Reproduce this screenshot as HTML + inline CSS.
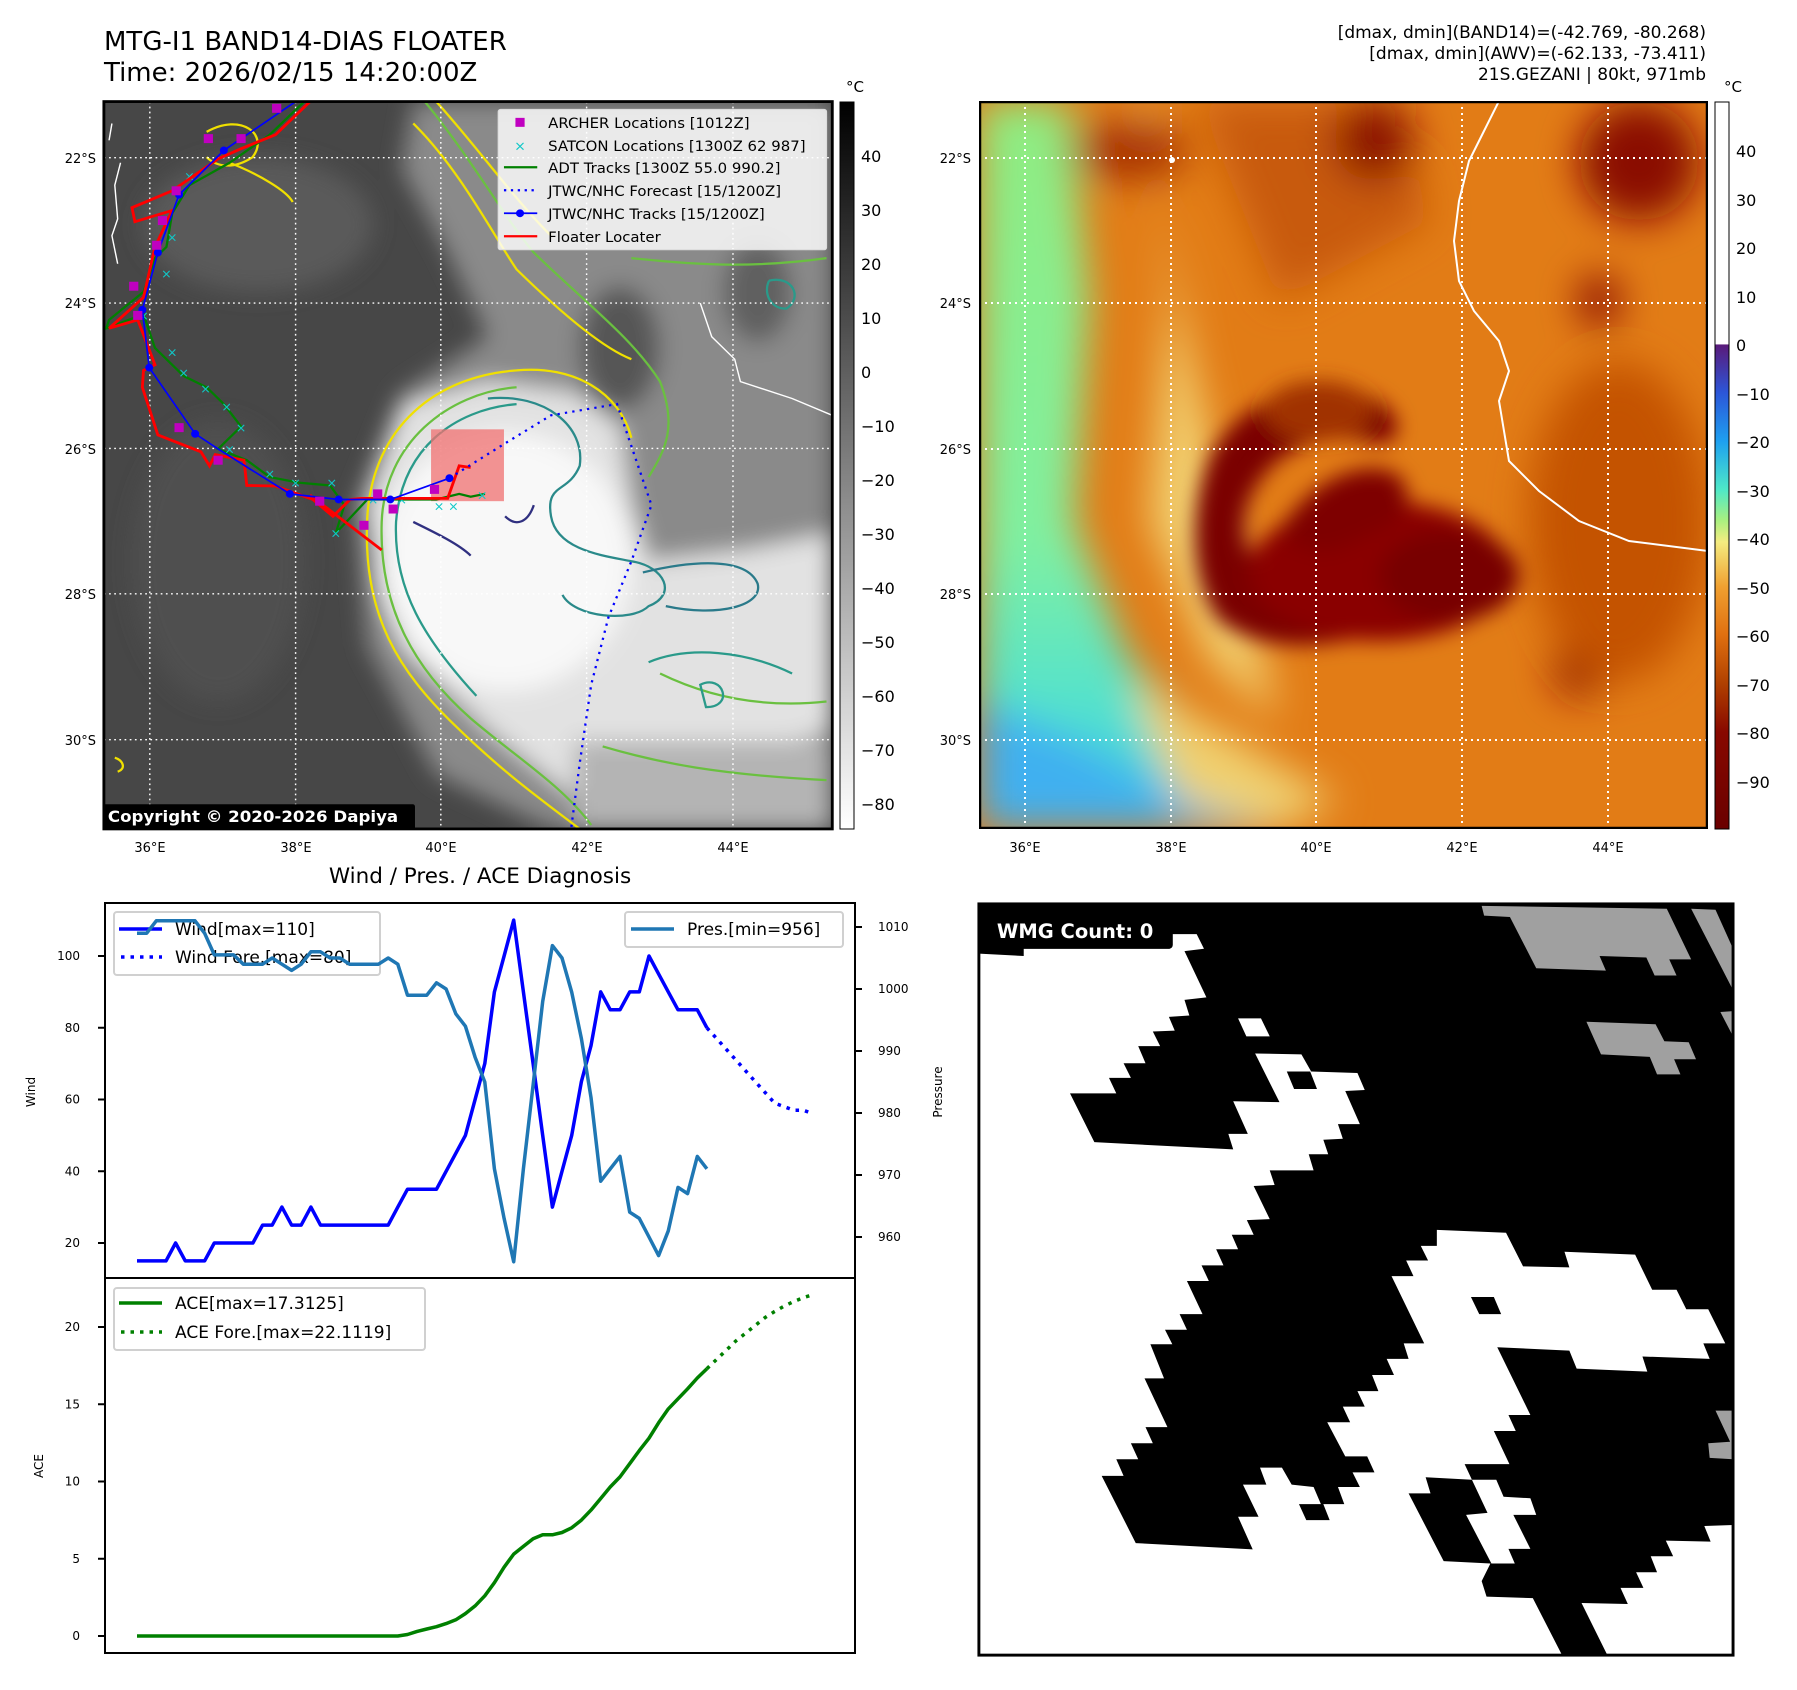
<!DOCTYPE html>
<html><head><meta charset="utf-8">
<style>
html,body{margin:0;padding:0;background:#fff;}
body{width:1797px;height:1690px;position:relative;overflow:hidden;font-family:"DejaVu Sans","Liberation Sans",sans-serif;}
svg text{font-family:"DejaVu Sans","Liberation Sans",sans-serif;}
</style></head>
<body>
<svg id="main" width="1797" height="1690" viewBox="0 0 1797 1690" xmlns="http://www.w3.org/2000/svg" style="position:absolute;left:0;top:0">
<defs>
  <filter id="b20" x="-20%" y="-20%" width="140%" height="140%"><feGaussianBlur stdDeviation="20"/></filter>
  <filter id="b10" x="-20%" y="-20%" width="140%" height="140%"><feGaussianBlur stdDeviation="10"/></filter>
  <filter id="b6" x="-20%" y="-20%" width="140%" height="140%"><feGaussianBlur stdDeviation="6"/></filter>
  <linearGradient id="grayBar" x1="0" y1="0" x2="0" y2="1">
    <stop offset="0" stop-color="#000"/><stop offset="1" stop-color="#fff"/>
  </linearGradient>
  <linearGradient id="colBar" x1="0" y1="0" x2="0" y2="1">
    <stop offset="0" stop-color="#fff"/><stop offset="0.333" stop-color="#fff"/>
    <stop offset="0.334" stop-color="#5a1a7a"/>
    <stop offset="0.40" stop-color="#2c56d8"/>
    <stop offset="0.467" stop-color="#1ea0f0"/>
    <stop offset="0.533" stop-color="#4ee8c8"/>
    <stop offset="0.575" stop-color="#a8f080"/>
    <stop offset="0.605" stop-color="#f4ec80"/>
    <stop offset="0.667" stop-color="#f0a030"/>
    <stop offset="0.733" stop-color="#e07010"/>
    <stop offset="0.80" stop-color="#b04000"/>
    <stop offset="0.867" stop-color="#880800"/>
    <stop offset="1" stop-color="#6a0000"/>
  </linearGradient>
  <linearGradient id="rmLeft" x1="0" y1="0" x2="0" y2="1">
    <stop offset="0" stop-color="#90ec80"/><stop offset="0.6" stop-color="#80f0a0"/><stop offset="0.85" stop-color="#50e0d0"/><stop offset="1" stop-color="#40c8e8"/>
  </linearGradient>
  <clipPath id="lmClip"><rect x="181" y="181" width="1269" height="1296"/></clipPath>
  <clipPath id="rmClip"><rect x="0" y="0" width="729" height="728"/></clipPath>
</defs>

<!-- Titles -->
<text x="104" y="50" font-size="26" fill="#000">MTG-I1 BAND14-DIAS FLOATER</text>
<text x="104" y="81" font-size="26" fill="#000">Time: 2026/02/15 14:20:00Z</text>
<g font-size="17" text-anchor="end" fill="#000">
  <text x="1706" y="38">[dmax, dmin](BAND14)=(-42.769, -80.268)</text>
  <text x="1706" y="59">[dmax, dmin](AWV)=(-62.133, -73.411)</text>
  <text x="1706" y="80">21S.GEZANI | 80kt, 971mb</text>
</g>

<!-- LEFT MAP -->
<svg x="0" y="0" width="900" height="880" viewBox="0 0 1568 1568" preserveAspectRatio="none">
 <g clip-path="url(#lmClip)">
  <rect x="181" y="181" width="1269" height="1296" fill="#474747"/>
  <g filter="url(#b20)">
    <ellipse cx="450" cy="400" rx="200" ry="120" fill="#5a5a5a"/>
    <ellipse cx="380" cy="1000" rx="150" ry="250" fill="#505050"/>
    <path d="M720,181 L1450,181 L1450,1477 L960,1477 L760,1380 L640,1150 L620,900 L700,700 L850,600 L780,450 L700,300 Z" fill="#8a8a8a"/>
    <ellipse cx="1080" cy="620" rx="70" ry="110" fill="#565656"/>
    <ellipse cx="1320" cy="520" rx="60" ry="90" fill="#606060"/>
    <path d="M640,900 L700,720 L850,680 L1000,700 L1080,760 L1100,900 L1130,1000 L1300,980 L1450,950 L1450,1300 L1200,1380 L1000,1420 L850,1300 L700,1150 Z" fill="#e2e2e2"/>
    <ellipse cx="880" cy="1000" rx="220" ry="230" fill="#f8f8f8"/>
    <rect x="1000" y="1320" width="450" height="160" fill="#b4b4b4"/>
  </g>
  <g fill="none" stroke-width="4">
    <path d="M900,660 C760,670 650,760 640,920 C630,1100 700,1200 790,1290 C880,1380 950,1430 1010,1477 M900,660 C1000,650 1080,700 1100,780" stroke="#f0e000"/>
    <path d="M900,690 C780,700 670,790 665,930 C660,1080 720,1190 820,1280 C900,1350 980,1400 1030,1470" stroke="#6ac040"/>
    <path d="M900,720 C790,730 700,800 690,930 C685,1050 740,1140 830,1240" stroke="#2a9a8a"/>
    <path d="M850,710 C950,700 1020,760 1010,830 C990,880 950,860 960,920 C970,980 1050,990 1100,1000 C1160,1010 1180,1060 1130,1080 C1100,1110 1000,1100 980,1060" stroke="#2a8a8a"/>
    <path d="M1120,1020 C1200,1000 1300,990 1320,1040 C1330,1080 1250,1100 1160,1080" stroke="#2a7a8a"/>
    <path d="M720,930 C760,950 800,970 820,990 M880,920 C900,940 920,930 930,900" stroke="#303080"/>
    <path d="M720,220 C800,300 860,420 900,480 C980,560 1050,620 1100,640 M760,181 C830,260 900,360 960,420" stroke="#f0e000"/>
    <path d="M740,181 C820,280 880,390 930,450 C1020,540 1100,600 1150,680 C1180,760 1160,800 1130,850" stroke="#6ac040"/>
    <path d="M1100,460 C1200,470 1300,480 1440,460 M1150,1200 C1250,1250 1350,1260 1440,1250 M1050,1330 C1150,1360 1250,1380 1440,1390" stroke="#6ac040"/>
    <path d="M1130,1180 C1200,1150 1300,1160 1380,1200 M1220,1220 C1260,1200 1280,1260 1230,1260 Z" stroke="#2a9a8a"/>
    <path d="M1340,500 C1380,490 1400,530 1370,550 C1340,550 1330,520 1340,500" stroke="#2a9a8a"/>
    <path d="M360,235 C420,200 470,240 440,280 C410,300 380,300 360,280 M400,290 C450,310 500,340 510,360" stroke="#f0e000"/>
    <path d="M200,1350 C215,1355 220,1370 205,1375" stroke="#f0e000"/>
  </g>
  <path d="M195,220 L190,250 M210,290 L200,330 L205,390 L195,420 L205,470 M1220,540 L1240,600 L1280,640 L1290,680 L1380,710 L1450,740" stroke="#fff" stroke-width="2.5" fill="none"/>
  <g stroke="#fff" stroke-width="2.5" stroke-dasharray="3,6">
    <line x1="261" y1="181" x2="261" y2="1477"/><line x1="515" y1="181" x2="515" y2="1477"/><line x1="768" y1="181" x2="768" y2="1477"/><line x1="1022" y1="181" x2="1022" y2="1477"/><line x1="1277" y1="181" x2="1277" y2="1477"/>
    <line x1="181" y1="281" x2="1450" y2="281"/><line x1="181" y1="540" x2="1450" y2="540"/><line x1="181" y1="799" x2="1450" y2="799"/><line x1="181" y1="1058" x2="1450" y2="1058"/><line x1="181" y1="1318" x2="1450" y2="1318"/>
  </g>
  <rect x="751" y="765" width="127" height="128" fill="#f07070" fill-opacity="0.75"/>
  <polyline points="530,181 470,240 400,290 330,330 300,380 290,440 270,460 250,520 190,570 185,585 250,560 270,620 300,650 320,670 360,690 390,720 420,760 380,800 430,820 470,850 520,860 575,865 600,900 585,950 640,890 760,890 800,880 820,885 845,880" fill="none" stroke="#008000" stroke-width="4"/>
  <g fill="#10c8c8" font-size="22" text-anchor="middle">
    <text x="330" y="322">×</text><text x="300" y="430">×</text><text x="290" y="495">×</text><text x="250" y="570">×</text><text x="300" y="635">×</text><text x="320" y="672">×</text><text x="358" y="700">×</text><text x="395" y="732">×</text><text x="420" y="770">×</text><text x="400" y="808">×</text><text x="470" y="852">×</text><text x="515" y="868">×</text><text x="578" y="868">×</text><text x="585" y="958">×</text><text x="650" y="898">×</text><text x="700" y="898">×</text><text x="765" y="910">×</text><text x="790" y="910">×</text><text x="840" y="890">×</text>
  </g>
  <polyline points="540,181 480,240 420,265 380,283 300,340 230,370 235,395 300,375 270,440 250,530 190,585 240,570 270,650 250,660 248,690 275,775 350,805 365,830 375,810 425,820 430,865 480,866 545,890 580,920 610,890 630,888 780,888 800,830 820,833" fill="none" stroke="#ff0000" stroke-width="5"/>
  <line x1="540" y1="882" x2="665" y2="980" stroke="#ff0000" stroke-width="5"/>
  <polyline points="515,181 390,268 312,347 275,450 248,552 260,655 340,773 380,800 505,880 590,890 680,890 783,852" fill="none" stroke="#0000ff" stroke-width="3"/>
  <g fill="#0000ff"><circle cx="390" cy="268" r="7"/><circle cx="312" cy="347" r="7"/><circle cx="275" cy="450" r="7"/><circle cx="248" cy="552" r="7"/><circle cx="260" cy="655" r="7"/><circle cx="340" cy="773" r="7"/><circle cx="505" cy="880" r="7"/><circle cx="590" cy="890" r="7"/><circle cx="680" cy="890" r="7"/><circle cx="783" cy="852" r="7"/></g>
  <polyline points="783,852 880,790 960,740 1075,720 1135,900 1100,1000 1060,1100 1030,1220 1010,1360 995,1477" fill="none" stroke="#0000ff" stroke-width="4" stroke-dasharray="4,9"/>
  <g fill="#c000c0">
    <rect x="355" y="239" width="16" height="16"/><rect x="412" y="239" width="16" height="16"/><rect x="474" y="185" width="16" height="16"/><rect x="299" y="332" width="16" height="16"/><rect x="275" y="385" width="16" height="16"/><rect x="265" y="429" width="16" height="16"/><rect x="225" y="502" width="16" height="16"/><rect x="232" y="554" width="16" height="16"/><rect x="304" y="754" width="16" height="16"/><rect x="372" y="812" width="16" height="16"/><rect x="549" y="885" width="16" height="16"/><rect x="626" y="928" width="16" height="16"/><rect x="650" y="872" width="16" height="16"/><rect x="677" y="899" width="16" height="16"/><rect x="749" y="864" width="16" height="16"/>
  </g>
  <g>
    <rect x="868" y="195" width="572" height="250" fill="#fff" fill-opacity="0.82" stroke="#ddd" stroke-width="2" rx="4"/>
    <rect x="898" y="210" width="16" height="16" fill="#c000c0"/>
    <text x="906" y="268" font-size="24" fill="#10c8c8" text-anchor="middle">×</text>
    <line x1="878" y1="298" x2="936" y2="298" stroke="#008000" stroke-width="4"/>
    <line x1="878" y1="339" x2="936" y2="339" stroke="#0000ff" stroke-width="4" stroke-dasharray="4,8"/>
    <line x1="878" y1="380" x2="936" y2="380" stroke="#0000ff" stroke-width="3"/><circle cx="906" cy="380" r="7" fill="#0000ff"/>
    <line x1="878" y1="421" x2="936" y2="421" stroke="#ff0000" stroke-width="4"/>
    <g font-size="26" fill="#000">
      <text x="955" y="228">ARCHER Locations [1012Z]</text>
      <text x="955" y="269">SATCON Locations [1300Z 62 987]</text>
      <text x="955" y="308">ADT Tracks [1300Z 55.0 990.2]</text>
      <text x="955" y="349">JTWC/NHC Forecast [15/1200Z]</text>
      <text x="955" y="390">JTWC/NHC Tracks [15/1200Z]</text>
      <text x="955" y="431">Floater Locater</text>
    </g>
  </g>
  <rect x="178" y="1433" width="545" height="46" fill="#000" rx="4"/>
  <text x="188" y="1465" font-size="29" font-weight="bold" fill="#fff">Copyright © 2020-2026 Dapiya</text>
 </g>
 <rect x="181" y="181" width="1269" height="1296" fill="none" stroke="#000" stroke-width="5"/>
</svg>

<g font-size="13" fill="#000">
  <g text-anchor="end"><text x="96" y="163">22°S</text><text x="96" y="308">24°S</text><text x="96" y="454">26°S</text><text x="96" y="599">28°S</text><text x="96" y="745">30°S</text></g>
  <g text-anchor="middle"><text x="150" y="852">36°E</text><text x="296" y="852">38°E</text><text x="441" y="852">40°E</text><text x="587" y="852">42°E</text><text x="733" y="852">44°E</text></g>
</g>
<rect x="840" y="102" width="14" height="727" fill="url(#grayBar)" stroke="#000" stroke-width="1"/>
<text x="855" y="92" font-size="15" text-anchor="middle">°C</text>
<g font-size="16" fill="#000">
  <text x="861" y="162">40</text><text x="861" y="216">30</text><text x="861" y="270">20</text><text x="861" y="324">10</text><text x="861" y="378">0</text><text x="861" y="432">−10</text><text x="861" y="486">−20</text><text x="861" y="540">−30</text><text x="861" y="594">−40</text><text x="861" y="648">−50</text><text x="861" y="702">−60</text><text x="861" y="756">−70</text><text x="861" y="810">−80</text>
</g>

<!-- RIGHT MAP -->
<svg x="979" y="101" width="729" height="728" viewBox="0 0 729 728">
 <g clip-path="url(#rmClip)">
  <rect width="729" height="728" fill="#e27c16"/>
  <g filter="url(#b20)">
    <path d="M0,0 L90,0 L110,200 L95,420 L150,560 L260,660 L300,728 L0,728 Z" fill="url(#rmLeft)"/>
    <path d="M0,600 L100,640 L200,700 L240,728 L0,728 Z" fill="#40b0f0"/>
    <path d="M90,0 L170,0 L190,200 L170,420 L230,560 L300,620 L260,460 L210,250 L160,0 Z" fill="#f2d070"/>
    <path d="M150,580 L260,640 L360,700 L300,728 L200,700 Z" fill="#f0d070"/>
    <path d="M220,0 L420,0 L450,120 L300,200 Z" fill="#c85a10"/>
    <ellipse cx="150" cy="50" rx="60" ry="30" fill="#a83000"/>
    <ellipse cx="395" cy="40" rx="40" ry="40" fill="#8a1000"/>
    <ellipse cx="660" cy="60" rx="60" ry="60" fill="#8a0800"/>
    <ellipse cx="620" cy="200" rx="20" ry="25" fill="#800000"/>
    <ellipse cx="600" cy="570" rx="25" ry="25" fill="#900800"/>
    <ellipse cx="640" cy="420" rx="90" ry="160" fill="#c45200"/>
  </g>
  <g filter="url(#b10)">
    <path d="M230,360 C260,290 350,270 400,300 C430,320 420,350 390,340 C340,330 290,350 270,400 C250,460 300,500 370,470 C420,450 460,440 490,470 C520,500 480,520 420,530 C360,540 300,560 240,520 C210,480 210,410 230,360 Z" fill="#7a0000"/>
    <ellipse cx="400" cy="470" rx="130" ry="70" fill="#8a0400"/>
    <ellipse cx="470" cy="475" rx="70" ry="45" fill="#780000"/>
    <path d="M300,430 C330,380 380,360 410,370 C440,380 430,420 400,430 C370,440 340,470 300,430 Z" fill="#7e0000"/>
    <ellipse cx="340" cy="310" rx="55" ry="30" fill="#a03000"/>
  </g>
  <path d="M520,0 L505,30 L490,60 L480,100 L475,140 L480,180 L495,210 L520,240 L530,270 L520,300 L530,360 L560,390 L600,420 L650,440 L729,450" fill="none" stroke="#fff" stroke-width="2"/>
  <circle cx="193" cy="59" r="3" fill="#fff"/>
  <g stroke="#fff" stroke-width="2" stroke-dasharray="2,4">
    <line x1="46" y1="0" x2="46" y2="728"/><line x1="192" y1="0" x2="192" y2="728"/><line x1="337" y1="0" x2="337" y2="728"/><line x1="483" y1="0" x2="483" y2="728"/><line x1="629" y1="0" x2="629" y2="728"/>
    <line x1="0" y1="57" x2="729" y2="57"/><line x1="0" y1="202" x2="729" y2="202"/><line x1="0" y1="348" x2="729" y2="348"/><line x1="0" y1="493" x2="729" y2="493"/><line x1="0" y1="639" x2="729" y2="639"/>
  </g>
 </g>
 <rect x="1" y="1" width="727" height="726" fill="none" stroke="#000" stroke-width="2.5"/>
</svg>
<g font-size="13" fill="#000">
  <g text-anchor="end"><text x="971" y="163">22°S</text><text x="971" y="308">24°S</text><text x="971" y="454">26°S</text><text x="971" y="599">28°S</text><text x="971" y="745">30°S</text></g>
  <g text-anchor="middle"><text x="1025" y="852">36°E</text><text x="1171" y="852">38°E</text><text x="1316" y="852">40°E</text><text x="1462" y="852">42°E</text><text x="1608" y="852">44°E</text></g>
</g>
<rect x="1715" y="102" width="14" height="727" fill="url(#colBar)" stroke="#000" stroke-width="1"/>
<text x="1733" y="92" font-size="15" text-anchor="middle">°C</text>
<g font-size="16" fill="#000">
  <text x="1736" y="157">40</text><text x="1736" y="206">30</text><text x="1736" y="254">20</text><text x="1736" y="303">10</text><text x="1736" y="351">0</text><text x="1736" y="400">−10</text><text x="1736" y="448">−20</text><text x="1736" y="497">−30</text><text x="1736" y="545">−40</text><text x="1736" y="594">−50</text><text x="1736" y="642">−60</text><text x="1736" y="691">−70</text><text x="1736" y="739">−80</text><text x="1736" y="788">−90</text>
</g>

<!-- WMG panel -->
<svg x="975" y="900" width="760" height="760" viewBox="0 0 1560 1560">
  <rect x="8" y="8" width="1548" height="1542" fill="#fff"/>
  <path fill="#000" d="M8,8 L1556,8 L1556,1283 L1497,1285 L1510,1317 L1418,1315 L1433,1347 L1387,1347 L1400,1380 L1357,1380 L1372,1412 L1325,1412 L1340,1445 L1245,1443 L1298,1550 L1205,1550 L1145,1433 L1050,1430 L1040,1398 L1058,1362 L962,1357 L890,1218 L935,1218 L925,1185 L1020,1190 L1005,1158 L1097,1158 L1065,1090 L1110,1090 L1095,1057 L1140,1057 L1072,918 L1220,925 L1235,962 L1380,968 L1370,937 L1508,942 L1495,910 L1540,910 L1505,840 L1460,840 L1440,800 L1390,800 L1355,728 L1210,722 L1220,754 L1125,752 L1090,683 L948,677 L948,710 L915,710 L930,740 L885,740 L900,772 L855,772 L922,910 L880,910 L890,942 L845,942 L860,975 L815,975 L828,1008 L785,1008 L800,1040 L755,1040 L770,1072 L723,1072 L760,1142 L805,1142 L820,1175 L775,1175 L790,1205 L745,1205 L758,1240 L715,1240 L728,1273 L680,1273 L665,1240 L710,1240 L695,1205 L650,1200 L630,1165 L585,1165 L598,1200 L550,1200 L582,1266 L540,1266 L570,1333 L330,1320 L260,1182 L305,1182 L290,1148 L335,1148 L320,1115 L365,1115 L350,1082 L395,1082 L348,982 L388,982 L360,912 L405,912 L390,882 L435,882 L420,850 L467,850 L435,782 L480,782 L465,750 L510,750 L495,717 L540,717 L527,687 L572,687 L558,657 L605,655 L572,587 L615,585 L605,555 L695,555 L685,522 L725,522 L715,492 L755,490 L745,460 L790,460 L760,392 L800,390 L785,355 L690,352 L670,317 L575,315 L625,415 L530,413 L560,480 L520,480 L530,512 L245,497 L195,397 L290,397 L275,365 L320,365 L305,335 L350,335 L335,300 L380,300 L365,270 L410,268 L398,240 L440,237 L430,205 L475,200 L430,105 L470,100 L455,70 L400,70 L400,100 L100,100 L100,115 L8,110 Z"/>
  <path fill="#fff" d="M540,243 L587,243 L605,280 L557,280 Z"/>
  <path fill="#000" d="M640,352 L688,352 L702,388 L655,388 Z"/>
  <path fill="#000" d="M1018,815 L1065,815 L1080,850 L1035,850 Z"/>
  <path fill="#fff" d="M1020,1190 L1070,1190 L1085,1225 L1140,1228 L1152,1262 L1105,1262 L1140,1332 L1095,1332 L1108,1362 L1060,1362 L1008,1262 L1052,1258 Z"/>
  <g fill="#a0a0a0">
    <path d="M1040,12 L1420,18 L1470,122 L1425,122 L1440,155 L1395,155 L1378,118 L1282,115 L1295,145 L1152,140 L1098,35 L1045,32 Z"/>
    <path d="M1470,18 L1520,20 L1556,100 L1556,185 Z"/>
    <path d="M1255,250 L1397,255 L1415,290 L1465,292 L1480,327 L1435,327 L1448,358 L1400,358 L1385,322 L1285,317 Z"/>
    <path d="M1530,230 L1556,228 L1556,280 Z"/>
    <path d="M1520,1048 L1556,1048 L1556,1148 L1508,1145 L1505,1115 L1550,1112 Z"/>
  </g>
  <rect x="8" y="8" width="398" height="92" rx="8" fill="#000"/>
  <text x="45" y="78" font-size="40" font-weight="bold" fill="#fff">WMG Count: 0</text>
  <rect x="8" y="8" width="1548" height="1542" fill="none" stroke="#000" stroke-width="6"/>
</svg>

<text x="480" y="883" font-size="21.5" text-anchor="middle">Wind / Pres. / ACE Diagnosis</text>
<g id="chart"></g>
</svg>

<script>
const windVals = [15,15,15,15,20,15,15,15,20,20,20,20,20,25,25,30,25,25,30,25,25,25,25,25,25,25,25,30,35,35,35,35,40,45,50,60,70,90,100,110,90,70,50,30,40,50,65,75,90,85,85,90,90,100,95,90,85,85,85,80];
const windFore = [80,77,74,71,68,65,62,59,58,57,57,56];
const presVals = [1009,1009,1011,1011,1011,1011,1011,1009,1005.5,1005.5,1005.5,1004,1004,1004,1005,1004,1003,1004,1006,1006,1005,1005,1004,1004,1004,1004,1005,1004,999,999,999,1001,1000,996,994,989,985,971,963,956,971,984.5,998,1007,1005,999.5,992,982.5,969,971,973,964,963,960,957,961,968,967,973,971];
const aceVals = [0,0,0,0,0,0,0,0,0,0,0,0,0,0,0,0,0,0,0,0,0,0,0,0,0,0,0,0,0.1,0.3,0.45,0.6,0.8,1.05,1.45,1.95,2.6,3.45,4.45,5.3,5.8,6.3,6.55,6.55,6.7,7.0,7.5,8.15,8.9,9.65,10.3,11.15,12.0,12.8,13.8,14.7,15.35,16.0,16.7,17.3];
const aceFore = [17.3,17.9,18.5,19.1,19.6,20.1,20.6,21.0,21.35,21.65,21.9,22.1];
const windTicks = [20,40,60,80,100];
const presTicks = [960,970,980,990,1000,1010];
const aceTicks = [0,5,10,15,20];

const NS = 'http://www.w3.org/2000/svg';
const chart = document.getElementById('chart');
function xi(i){ return 137 + i * 9.66; }
function yWind(w){ return 1243 - (w - 20) * 3.5875; }
function yPres(p){ return 927 + (1010 - p) * 6.2; }
function yAce(a){ return 1636 - a * 15.45; }
function mk(tag, attrs, parent){
  const e = document.createElementNS(NS, tag);
  for (const k in attrs) e.setAttribute(k, attrs[k]);
  (parent || chart).appendChild(e);
  return e;
}
function pts(arr, off, yf){ return arr.map((v,i)=>xi(i+off).toFixed(1)+','+yf(v).toFixed(1)).join(' '); }

const f1 = mk('rect',{x:105,y:903,width:750,height:375,fill:'#fff',stroke:'#000','stroke-width':2});


const f2 = mk('rect',{x:105,y:1278,width:750,height:375,fill:'#fff',stroke:'#000','stroke-width':2});



windTicks.forEach(t=>{
  const y = yWind(t);
  mk('line',{x1:98,y1:y,x2:105,y2:y,stroke:'#000','stroke-width':2});
  const tx = mk('text',{x:80,y:y+4,'font-size':12,'text-anchor':'end'}); tx.textContent = t;
  
  
});
presTicks.forEach(t=>{
  const y = yPres(t);
  mk('line',{x1:855,y1:y,x2:862,y2:y,stroke:'#000','stroke-width':2});
  const tx = mk('text',{x:878,y:y+4,'font-size':12}); tx.textContent = t;
  
  
});
aceTicks.forEach(t=>{
  const y = yAce(t);
  mk('line',{x1:98,y1:y,x2:105,y2:y,stroke:'#000','stroke-width':2});
  const tx = mk('text',{x:80,y:y+4,'font-size':12,'text-anchor':'end'}); tx.textContent = t;
  
  
});
const yl1 = mk('text',{x:0,y:0,'font-size':12,'text-anchor':'middle',transform:'translate(35,1092) rotate(-90)'}); yl1.textContent='Wind';


const yl2 = mk('text',{x:0,y:0,'font-size':12,'text-anchor':'middle',transform:'translate(942,1092) rotate(-90)'}); yl2.textContent='Pressure';


const yl3 = mk('text',{x:0,y:0,'font-size':12,'text-anchor':'middle',transform:'translate(43,1466) rotate(-90)'}); yl3.textContent='ACE';



const wl = mk('polyline',{points:pts(windVals,0,yWind),fill:'none',stroke:'#0000ff','stroke-width':3.5,'stroke-linejoin':'round'});


const wf = mk('polyline',{points:pts(windFore,59,yWind),fill:'none',stroke:'#0000ff','stroke-width':3.5,'stroke-dasharray':'3.5,6'});



const lg1 = mk('g',{});


mk('rect',{x:114,y:912,width:266,height:63,rx:3,fill:'#fff','fill-opacity':0.8,stroke:'#d0d0d0','stroke-width':2},lg1);
mk('line',{x1:119,y1:929,x2:162,y2:929,stroke:'#0000ff','stroke-width':3.5},lg1);
mk('line',{x1:121,y1:957,x2:162,y2:957,stroke:'#0000ff','stroke-width':3.5,'stroke-dasharray':'3.5,6'},lg1);
let t = mk('text',{x:175,y:935,'font-size':17},lg1); t.textContent='Wind[max=110]';
t = mk('text',{x:175,y:963,'font-size':17},lg1); t.textContent='Wind Fore.[max=80]';

const pl = mk('polyline',{points:pts(presVals,0,yPres),fill:'none',stroke:'#1f77b4','stroke-width':3.5,'stroke-linejoin':'round'});


const lg2 = mk('g',{});


mk('rect',{x:625,y:912,width:218,height:35,rx:3,fill:'#fff','fill-opacity':0.8,stroke:'#d0d0d0','stroke-width':2},lg2);
mk('line',{x1:631,y1:929,x2:674,y2:929,stroke:'#1f77b4','stroke-width':3.5},lg2);
t = mk('text',{x:687,y:935,'font-size':17},lg2); t.textContent='Pres.[min=956]';

const al = mk('polyline',{points:pts(aceVals,0,yAce),fill:'none',stroke:'#008000','stroke-width':3.5,'stroke-linejoin':'round'});


const af = mk('polyline',{points:pts(aceFore,59,yAce),fill:'none',stroke:'#008000','stroke-width':3.5,'stroke-dasharray':'3.5,6'});


const lg3 = mk('g',{});


mk('rect',{x:114,y:1288,width:311,height:62,rx:3,fill:'#fff','fill-opacity':0.8,stroke:'#d0d0d0','stroke-width':2},lg3);
mk('line',{x1:119,y1:1303,x2:162,y2:1303,stroke:'#008000','stroke-width':3.5},lg3);
mk('line',{x1:121,y1:1332,x2:162,y2:1332,stroke:'#008000','stroke-width':3.5,'stroke-dasharray':'3.5,6'},lg3);
t = mk('text',{x:175,y:1309,'font-size':17},lg3); t.textContent='ACE[max=17.3125]';
t = mk('text',{x:175,y:1338,'font-size':17},lg3); t.textContent='ACE Fore.[max=22.1119]';
</script>
</body></html>
